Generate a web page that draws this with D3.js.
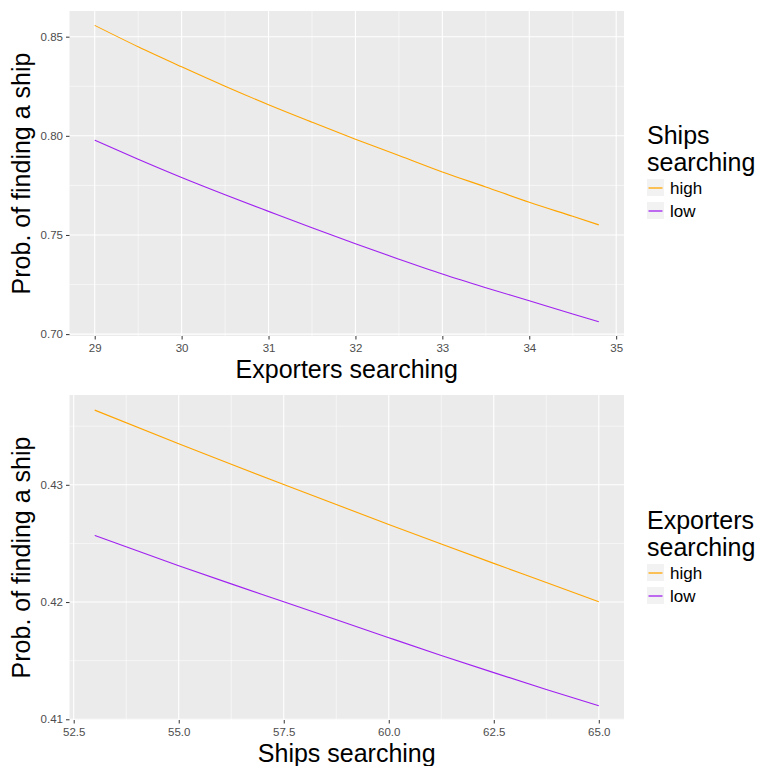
<!DOCTYPE html>
<html><head><meta charset="utf-8">
<script src="https://cdnjs.cloudflare.com/ajax/libs/d3/7.8.5/d3.min.js"></script>
<style>body{margin:0;background:#fff}svg{display:block;font-family:"Liberation Sans",Arial,sans-serif}</style>
</head><body><svg id="c" width="757" height="766"></svg>
<script>
// Top panel: x = Exporters searching, groups = Ships searching
const topX = [29, 29.5, 30, 30.5, 31, 31.5, 32, 32.5, 33, 33.5, 34, 34.5, 34.8];
const topHigh = [0.8557, 0.8449, 0.8348, 0.8250, 0.8157, 0.8069, 0.7983, 0.7901, 0.7818, 0.7742, 0.7665, 0.7594, 0.7551];
const topLow  = [0.7978, 0.7882, 0.7790, 0.7703, 0.7619, 0.7536, 0.7456, 0.7378, 0.7303, 0.7234, 0.7168, 0.7101, 0.7062];
const topXTicks = [29, 30, 31, 32, 33, 34, 35];
const topYTicks = [0.70, 0.75, 0.80, 0.85];
// Bottom panel: x = Ships searching, groups = Exporters searching
const botX = [53, 55, 56.25, 57.5, 60, 61.25, 62.5, 63.75, 65];
const botHigh = [0.43637, 0.43350, 0.43175, 0.43002, 0.42662, 0.42495, 0.42330, 0.42167, 0.42003];
const botLow  = [0.42568, 0.42310, 0.42155, 0.42003, 0.41696, 0.41545, 0.41398, 0.41255, 0.41116];
const botXTicks = [52.5, 55.0, 57.5, 60.0, 62.5, 65.0];
const botYTicks = [0.41, 0.42, 0.43];
const groups = ["high", "low"];
const colors = ["#FFA500", "#A020F0"];

const svg = d3.select("#c");

function panel(cfg) {
  const {x0, x1, y0, y1, xs, ys, xDom, yDom, xTicks, yTicks, xMinor, yMinor, xFmt, yFmt, xTitle, legendTitle, legendY} = cfg;
  const x = d3.scaleLinear().domain(xDom).range([x0, x1]);
  const y = d3.scaleLinear().domain(yDom).range([y1, y0]);
  const g = svg.append("g");
  g.append("rect").attr("x", x0).attr("y", y0).attr("width", x1 - x0).attr("height", y1 - y0).attr("fill", "#EBEBEB");
  // minor grid
  g.append("g").selectAll("line").data(xMinor).join("line").attr("x1", d => x(d)).attr("x2", d => x(d)).attr("y1", y0).attr("y2", y1).attr("stroke", "#fff").attr("stroke-width", 0.55);
  g.append("g").selectAll("line").data(yMinor).join("line").attr("y1", d => y(d)).attr("y2", d => y(d)).attr("x1", x0).attr("x2", x1).attr("stroke", "#fff").attr("stroke-width", 0.55);
  g.append("g").selectAll("line").data(xTicks).join("line").attr("x1", d => x(d)).attr("x2", d => x(d)).attr("y1", y0).attr("y2", y1).attr("stroke", "#fff").attr("stroke-width", 1.1);
  g.append("g").selectAll("line").data(yTicks).join("line").attr("y1", d => y(d)).attr("y2", d => y(d)).attr("x1", x0).attr("x2", x1).attr("stroke", "#fff").attr("stroke-width", 1.1);
  // lines
  const line = d3.line().x(d => x(d[0])).y(d => y(d[1])).curve(d3.curveMonotoneX);
  ys.forEach((vals, i) => {
    g.append("path").datum(xs.map((v, j) => [v, vals[j]])).attr("d", line)
      .attr("fill", "none").attr("stroke", colors[i]).attr("stroke-width", 1.1);
  });
  // axes
  const xa = g.append("g").attr("transform", `translate(0,${y1})`)
    .call(d3.axisBottom(x).tickValues(xTicks).tickFormat(xFmt).tickSize(3.5).tickPadding(4));
  const ya = g.append("g").attr("transform", `translate(${x0},0)`)
    .call(d3.axisLeft(y).tickValues(yTicks).tickFormat(yFmt).tickSize(3.5).tickPadding(3));
  [xa, ya].forEach(a => {
    a.select(".domain").remove();
    a.selectAll(".tick line").attr("stroke", "#333").attr("stroke-width", 1);
    a.selectAll(".tick text").attr("fill", "#4D4D4D").style("font-size", "11.5px").style("font-family", "Liberation Sans, Arial, sans-serif");
  });
  // titles
  g.append("text").attr("x", (x0 + x1) / 2).attr("y", y1 + 42).attr("text-anchor", "middle")
    .style("font-size", "25px").attr("fill", "#000").text(xTitle);
  g.append("text").attr("transform", `translate(30,${(y0 + y1) / 2}) rotate(-90)`).attr("text-anchor", "middle")
    .style("font-size", "25px").attr("fill", "#000").text("Prob. of finding a ship");
  // legend
  const lx = 647;
  const lt = g.append("text").attr("x", lx).attr("y", legendY).style("font-size", "25px").attr("fill", "#000");
  legendTitle.forEach((t, i) => lt.append("tspan").attr("x", lx).attr("dy", i === 0 ? 0 : 27).text(t));
  groups.forEach((gname, i) => {
    const ky = legendY + 35 + i * 23;
    g.append("rect").attr("x", lx).attr("y", ky).attr("width", 17).attr("height", 17).attr("fill", "#F2F2F2");
    g.append("line").attr("x1", lx + 1.5).attr("x2", lx + 15.5).attr("y1", ky + 9).attr("y2", ky + 9).attr("stroke", colors[i]).attr("stroke-width", 1.3);
    g.append("text").attr("x", lx + 23).attr("y", ky + 14.5).style("font-size", "17px").attr("fill", "#000").text(gname);
  });
}

panel({x0: 69.5, x1: 624, y0: 11, y1: 336, xs: topX, ys: [topHigh, topLow],
  xDom: [28.71, 35.09], yDom: [0.69905, 0.86295], xTicks: topXTicks, yTicks: topYTicks,
  xMinor: [29.5, 30.5, 31.5, 32.5, 33.5, 34.5], yMinor: [0.725, 0.775, 0.825],
  xFmt: d3.format("d"), yFmt: d3.format(".2f"), xTitle: "Exporters searching",
  legendTitle: ["Ships", "searching"], legendY: 144});

panel({x0: 69.5, x1: 624, y0: 395, y1: 720, xs: botX, ys: [botHigh, botLow],
  xDom: [52.4, 65.6], yDom: [0.40994, 0.43766], xTicks: botXTicks, yTicks: botYTicks,
  xMinor: [53.75, 56.25, 58.75, 61.25, 63.75], yMinor: [0.415, 0.425, 0.435],
  xFmt: d3.format(".1f"), yFmt: d3.format(".2f"), xTitle: "Ships searching",
  legendTitle: ["Exporters", "searching"], legendY: 529});
</script></body></html>
